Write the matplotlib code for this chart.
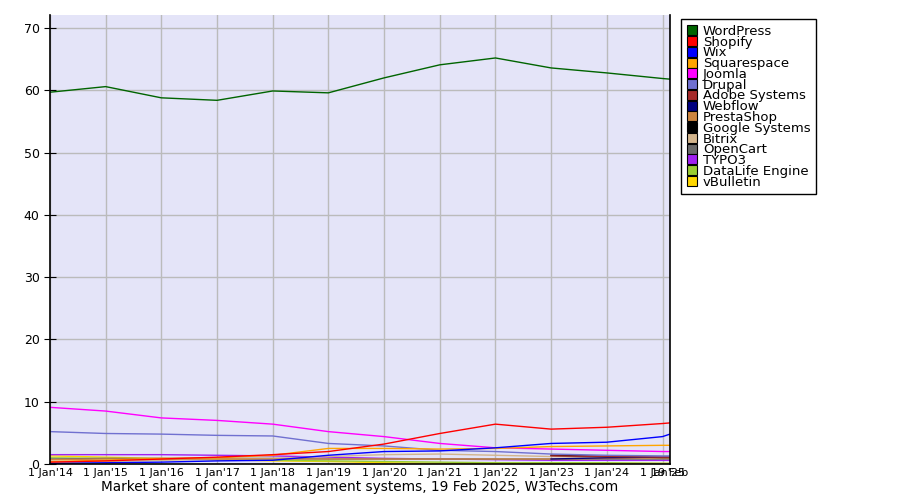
import datetime as dt
import numpy as np
import matplotlib
matplotlib.use('Agg')
import matplotlib.pyplot as plt
from matplotlib.lines import Line2D

nan = np.nan

dates = [dt.date(y, 1, 1) for y in range(2014, 2026)] + [dt.date(2025, 2, 19)]
tick_labels = ["1 Jan'%02d" % (y % 100) for y in range(2014, 2026)] + ['19 Feb']

names = ['WordPress', 'Shopify', 'Wix', 'Squarespace', 'Joomla', 'Drupal',
         'Adobe Systems', 'Webflow', 'PrestaShop', 'Google Systems', 'Bitrix',
         'OpenCart', 'TYPO3', 'DataLife Engine', 'vBulletin']
colors = ['#006400', '#ff0000', '#0000ff', '#ffa500', '#ff00ff', '#7070d0',
          '#a52a2a', '#000080', '#cd853f', '#000000', '#d2b48c',
          '#696969', '#a020f0', '#9acd32', '#ffd700']

wordpress = [59.7, 60.6, 58.8, 58.4, 59.9, 59.6, 62.0, 64.1, 65.2, 63.6, 62.8, 61.9, 61.8]
shopify = [0.3, 0.5, 0.8, 1.1, 1.5, 2.0, 3.2, 4.9, 6.4, 5.6, 5.9, 6.5, 6.6]
wix = [0.1, 0.2, 0.3, 0.5, 0.6, 1.4, 2.0, 2.1, 2.6, 3.3, 3.5, 4.4, 4.8]
squarespace = [0.4, 0.6, 0.9, 1.0, 1.4, 2.5, 2.5, 2.4, 2.5, 2.8, 2.9, 3.0, 3.0]
joomla = [9.1, 8.5, 7.4, 7.0, 6.4, 5.2, 4.4, 3.3, 2.6, 2.4, 2.2, 2.0, 2.0]
drupal = [5.2, 4.9, 4.8, 4.6, 4.5, 3.3, 2.9, 2.2, 2.0, 1.6, 1.4, 1.3, 1.3]
adobe = [nan] * 9 + [1.3, 1.2, 1.1, 1.1]
webflow = [nan] * 9 + [0.8, 1.0, 1.1, 1.1]
prestashop = [0.7, 0.8, 0.8, 0.8, 0.8, 0.8, 0.8, 0.8, 0.8, 0.8, 0.9, 1.0, 1.0]
google = [nan] * 9 + [1.4, 1.2, 1.0, 1.0]
bitrix = [0.3, 0.4, 0.6, 0.8, 0.9, 1.2, 1.5, 1.6, 1.4, 1.2, 1.0, 0.9, 0.9]
opencart = [0.8, 0.9, 0.9, 0.9, 0.9, 0.8, 0.8, 0.8, 0.8, 0.8, 0.8, 0.8, 0.8]
typo3 = [1.5, 1.5, 1.5, 1.4, 1.3, 1.1, 0.9, 0.8, 0.7, 0.6, 0.6, 0.6, 0.6]
datalife = [1.0, 0.9, 0.8, 0.7, 0.6, 0.5, 0.4, 0.3, 0.2, 0.2, 0.2, 0.1, 0.1]
vbulletin = [1.3, 1.1, 0.9, 0.7, 0.5, 0.4, 0.2, 0.1, 0.1, 0.1, 0.1, 0.1, 0.1]

series = [wordpress, shopify, wix, squarespace, joomla, drupal, adobe, webflow,
          prestashop, google, bitrix, opencart, typo3, datalife, vbulletin]

fig = plt.figure(figsize=(9, 5), dpi=100)
ax = fig.add_axes([50 / 900, 1 - 464 / 500, 620 / 900, 449 / 500])
ax.set_facecolor('#e4e4f8')

for vals, c in reversed(list(zip(series, colors))):
    ax.plot(dates, vals, color=c, lw=1)

ax.set_xlim(dates[0], dates[-1])
ax.set_ylim(0, 72.1)
ax.set_xticks(dates)
ax.set_xticklabels(tick_labels, fontsize=8)
ax.set_yticks(range(0, 71, 10))
ax.tick_params(axis='y', labelsize=9, direction='inout', length=8)
ax.tick_params(axis='x', length=0, pad=3)
ax.grid(True, color='#bbbbbb', lw=1)
ax.set_axisbelow(True)
ax.spines['top'].set_visible(False)
for s in ['left', 'bottom', 'right']:
    ax.spines[s].set_color('black')
    ax.spines[s].set_linewidth(1.2)

fig.text(360 / 900, 1 - 487 / 500, 'Market share of content management systems, 19 Feb 2025, W3Techs.com',
         ha='center', va='center', fontsize=9.8)

handles = [Line2D([], [], ls='none', marker='s', markersize=7, markerfacecolor=c,
                  markeredgecolor='black', markeredgewidth=0.8) for c in colors]
leg = fig.legend(handles, names, loc='upper left', bbox_to_anchor=(681 / 900, 1 - 19 / 500),
                 bbox_transform=fig.transFigure, borderaxespad=0, fontsize=9.5,
                 labelspacing=-0.17, handletextpad=0.4, handlelength=0.8,
                 borderpad=0.45, fancybox=False, framealpha=1, edgecolor='black')
leg.get_frame().set_linewidth(1)

fig.savefig('out.png', dpi=100)
